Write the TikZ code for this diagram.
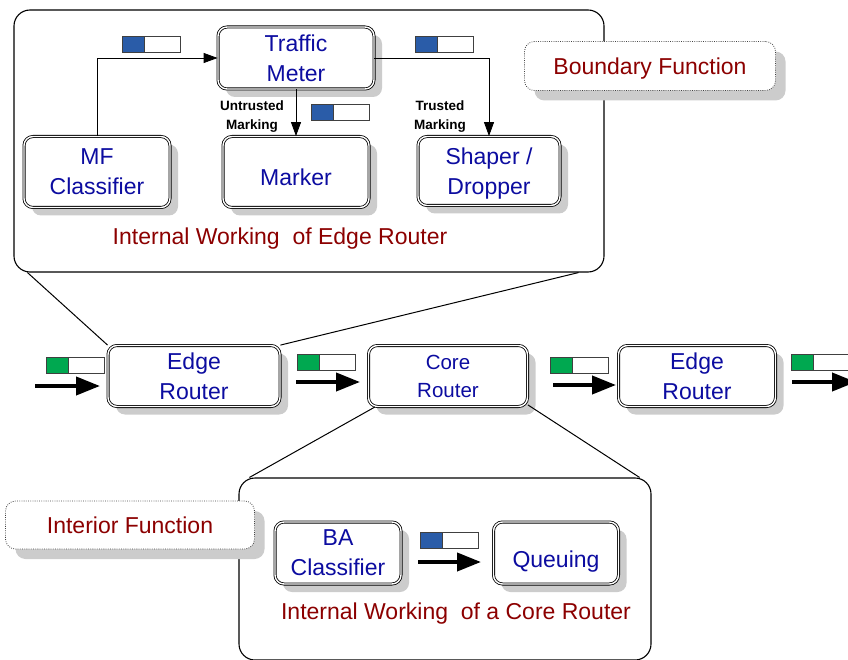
\documentclass[tikz,border=0pt]{standalone}
\usepackage{fontspec}
\setmainfont{Liberation Sans}
\usetikzlibrary{calc}
\usetikzlibrary{shadows}
\usetikzlibrary{arrows.meta}
\usepackage{xcolor}
\definecolor{unitblue}{RGB}{12,12,160}
\definecolor{labelred}{RGB}{140,0,0}
\definecolor{shadowgray}{RGB}{204,204,204}
\definecolor{pktblue}{RGB}{42,92,168}
\definecolor{pktgreen}{RGB}{0,168,80}

\begin{document}
\begin{tikzpicture}[x=1pt, y=-1pt,
    unit/.style={draw, double, double distance=1.4pt, line width=0.8pt,
        rounded corners=9pt, fill=white, text=unitblue, align=center,
        inner sep=0pt, text depth=0pt, font=\fontsize{23}{30}\selectfont,
        drop shadow={shadow xshift=8pt, shadow yshift=-8pt, fill=shadowgray, opacity=1}},
    zone/.style={draw, line width=1.1pt, rounded corners=16pt, fill=white, inner sep=0pt},
    tag/.style={draw=black!75, line width=0.8pt, dash pattern=on 0.8pt off 1.4pt,
        rounded corners=10pt, fill=white, text=labelred, inner sep=0pt, text depth=0pt,
        font=\fontsize{23}{28}\selectfont,
        drop shadow={shadow xshift=10pt, shadow yshift=-10pt, fill=shadowgray, opacity=1}},
    caption/.style={text=labelred, font=\fontsize{23}{28}\selectfont},
    marklabel/.style={align=center, font=\bfseries\fontsize{13.5}{19}\selectfont},
    flow/.style={-{Triangle[length=14pt, width=10pt]}, line width=0.8pt},
    push/.style={-{Triangle[length=24pt, width=18pt]}, line width=4pt},
    zoomline/.style={line width=1pt}
]
    \useasboundingbox (0,0) rectangle (848,660);

    % 1. The two zoomed-in zones
    \node[zone, minimum width=590pt, minimum height=262pt] (edgezone) at (309,141) {};
    \node[zone, minimum width=412pt, minimum height=182pt] (corezone) at (445,569) {};

    % 2. Inside the edge router
    \node[unit, minimum width=156pt, minimum height=62pt] (meter) at (296,58) {Traffic\\Meter};
    \node[unit, minimum width=146pt, minimum height=71pt] (mfclass) at (97,172) {MF\\Classifier};
    \node[unit, minimum width=146pt, minimum height=71pt, text height=28pt] (marker) at (296,172) {Marker};
    \node[unit, minimum width=142pt, minimum height=69pt] (shaper) at (489,171) {Shaper /\\Dropper};

    \draw[flow] (mfclass.north) |- (meter.west);
    \draw[flow] (meter.south) -- (marker.north);
    \draw[flow] (meter.east) -| (shaper.north);

    \node[marklabel] (untrusted) at (252,117) {Untrusted\\Marking};
    \node[marklabel] (trusted) at (440,117) {Trusted\\Marking};
    \node[caption] (edgecap) at (280,239) {Internal Working\ \ of Edge Router};
    \node[tag, minimum width=251pt, minimum height=49pt] (boundary) at (650,66) {Boundary Function};

    % 3. The path through the domain
    \node[unit, minimum width=172pt, minimum height=61pt] (edgeA) at (194,376) {Edge\\Router};
    \node[unit, minimum width=159pt, minimum height=61pt,
        font=\fontsize{20.5}{28}\selectfont] (core) at (448,376) {Core\\Router};
    \node[unit, minimum width=157pt, minimum height=61pt] (edgeB) at (697,376) {Edge\\Router};

    \draw[zoomline] ($(edgezone.south west)+(14,0)$) -- (edgeA.north west);
    \draw[zoomline] ($(edgezone.south east)+(-26,0)$) -- (edgeA.north east);
    \draw[zoomline] ($(core.south west)+(7,0)$) -- ($(corezone.north west)+(11,0)$);
    \draw[zoomline] ($(core.south east)+(0,-2)$) -- ($(corezone.north east)+(-12,0)$);

    \draw[push] (35,386) -- (100,386);
    \draw[push] (296,382) -- (360,382);
    \draw[push] (553,385) -- (616,385);
    \draw[push] (792,382) -- (856,382);

    % 4. Inside the core router
    \node[unit, minimum width=126pt, minimum height=62pt] (baclass) at (338,553) {BA\\Classifier};
    \node[unit, minimum width=125pt, minimum height=62pt, text height=28pt] (queue) at (556,553) {Queuing};
    \draw[push] (418,562) -- (481,562);
    \node[caption] (corecap) at (456,614) {Internal Working\ \ of a Core Router};
    \node[tag, minimum width=249pt, minimum height=48pt] (interior) at (130,525) {Interior Function};

    % 5. Packets with their marks
    \foreach \px/\py/\pc in {122/36/pktblue, 415/36/pktblue, 311/104/pktblue, 420/532/pktblue,
        46/357/pktgreen, 297/354/pktgreen, 550/357/pktgreen, 791/354/pktgreen} {
        \draw[draw=black!75, line width=0.7pt, fill=white] (\px,\py) rectangle ++(58,16);
        \draw[draw=black!75, line width=0.7pt, fill=\pc] (\px,\py) rectangle ++(22,16);
    }
\end{tikzpicture}
\end{document}
